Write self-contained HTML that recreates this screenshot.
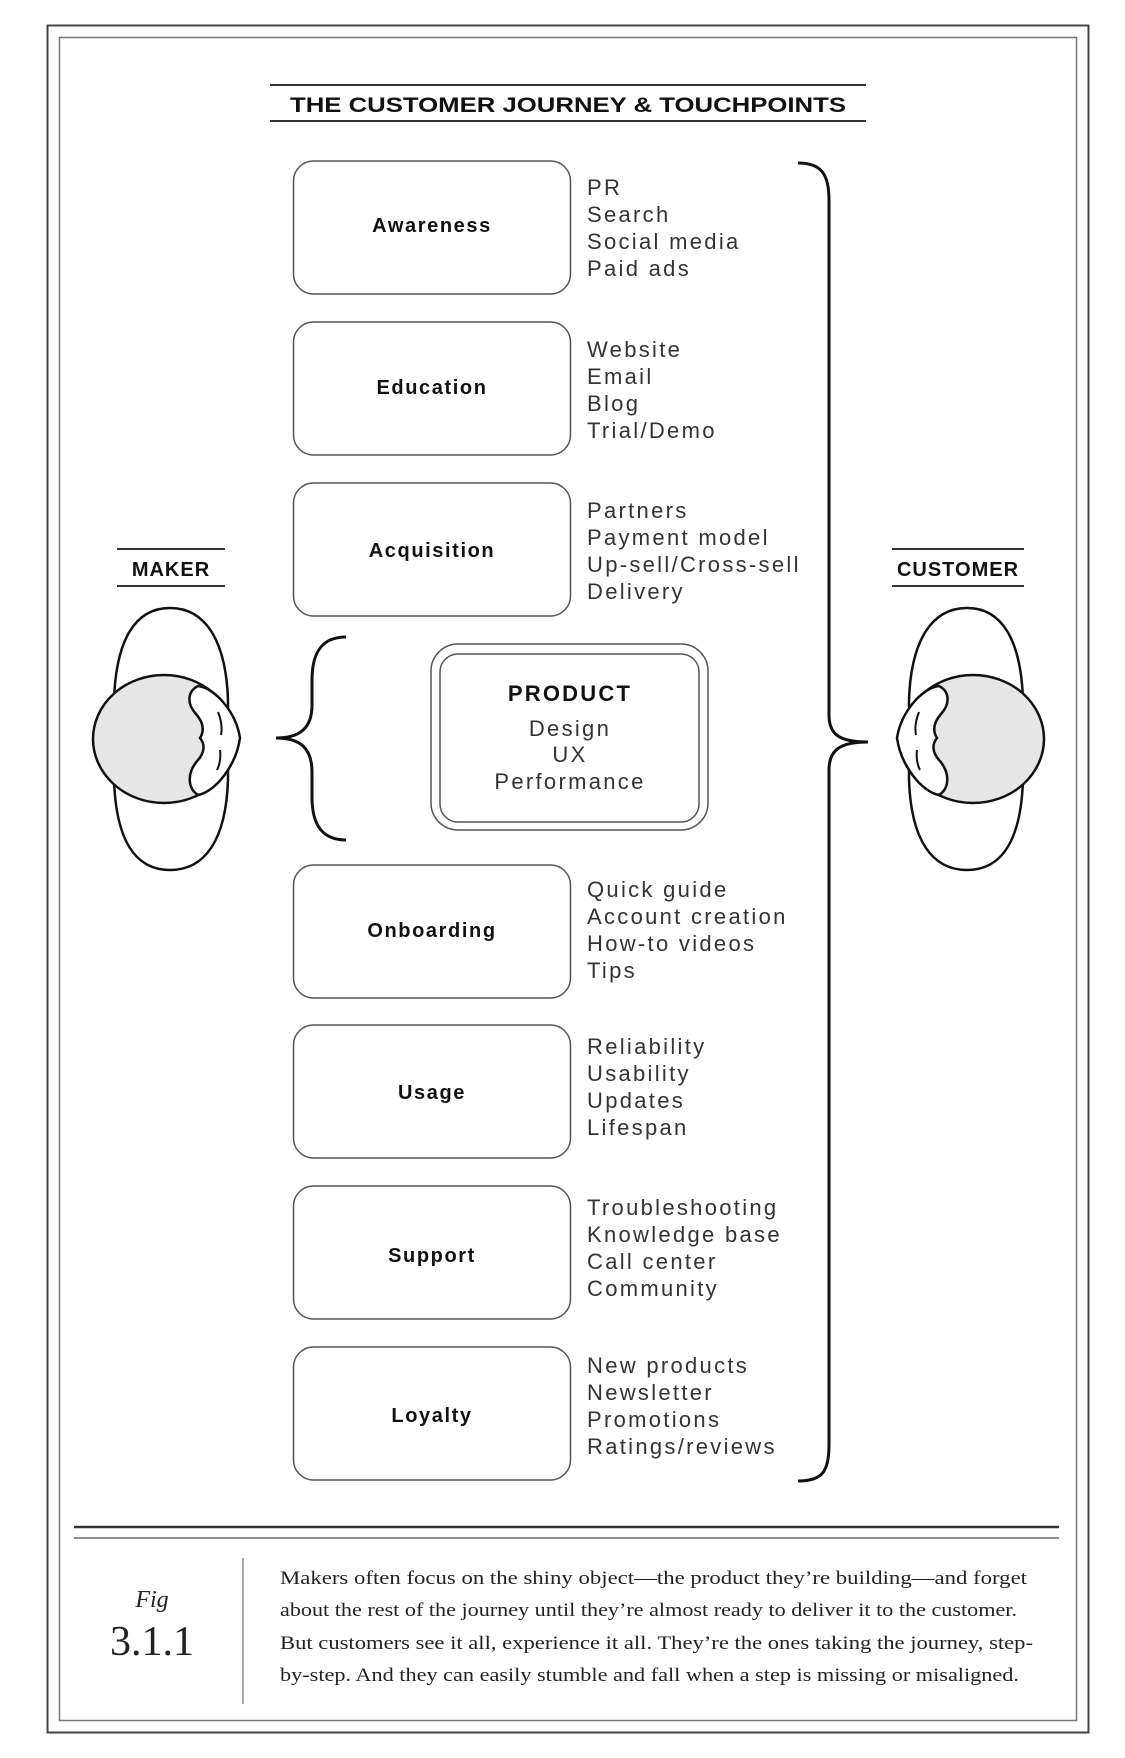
<!DOCTYPE html>
<html><head><meta charset="utf-8"><style>
html,body{margin:0;padding:0;background:#fff;}
svg{display:block;}
.sans{font-family:"Liberation Sans",sans-serif;}
.lab{font-family:"Liberation Sans",sans-serif;font-size:22px;fill:#333;letter-spacing:2.3px;}
.box{font-family:"Liberation Sans",sans-serif;font-size:20px;font-weight:bold;fill:#111;letter-spacing:1.6px;}
.ser{font-family:"Liberation Serif",serif;fill:#222;}
</style></head><body>
<svg width="1125" height="1758" viewBox="0 0 1125 1758" xmlns="http://www.w3.org/2000/svg">
<rect x="47.5" y="25.5" width="1041" height="1707" fill="none" stroke="#444" stroke-width="2"/>
<rect x="59.5" y="37.5" width="1017" height="1683" fill="none" stroke="#777" stroke-width="1.5"/>
<line x1="270" y1="85" x2="866" y2="85" stroke="#333" stroke-width="2"/>
<line x1="270" y1="121" x2="866" y2="121" stroke="#333" stroke-width="2"/>
<text x="568" y="112" text-anchor="middle" class="sans" font-size="21" font-weight="bold" fill="#111" textLength="556" lengthAdjust="spacingAndGlyphs">THE CUSTOMER JOURNEY &amp; TOUCHPOINTS</text>

<g fill="none" stroke="#555" stroke-width="1.5">
<rect x="293.5" y="161" width="277" height="133" rx="20"/>
<rect x="293.5" y="322" width="277" height="133" rx="20"/>
<rect x="293.5" y="483" width="277" height="133" rx="20"/>
<rect x="293.5" y="865" width="277" height="133" rx="20"/>
<rect x="293.5" y="1025" width="277" height="133" rx="20"/>
<rect x="293.5" y="1186" width="277" height="133" rx="20"/>
<rect x="293.5" y="1347" width="277" height="133" rx="20"/>
<rect x="431" y="644" width="277" height="186" rx="27"/>
<rect x="440" y="654" width="259" height="168" rx="18"/>
</g>
<g text-anchor="middle">
<text x="432" y="232" class="box">Awareness</text>
<text x="432" y="394" class="box">Education</text>
<text x="432" y="557" class="box">Acquisition</text>
<text x="432" y="937" class="box">Onboarding</text>
<text x="432" y="1099" class="box">Usage</text>
<text x="432" y="1262" class="box">Support</text>
<text x="432" y="1422" class="box">Loyalty</text>
</g>
<text x="570" y="701" text-anchor="middle" class="sans" font-size="22" font-weight="bold" fill="#111" letter-spacing="2.2">PRODUCT</text>
<g text-anchor="middle" class="lab">
<text x="570" y="736">Design</text>
<text x="570" y="762">UX</text>
<text x="570" y="789">Performance</text>
</g>

<g class="lab">
<text x="587" y="195">PR</text><text x="587" y="222">Search</text><text x="587" y="249">Social media</text><text x="587" y="276">Paid ads</text>
<text x="587" y="357">Website</text><text x="587" y="384">Email</text><text x="587" y="411">Blog</text><text x="587" y="438">Trial/Demo</text>
<text x="587" y="518">Partners</text><text x="587" y="545">Payment model</text><text x="587" y="572">Up-sell/Cross-sell</text><text x="587" y="599">Delivery</text>
<text x="587" y="897">Quick guide</text><text x="587" y="924">Account creation</text><text x="587" y="951">How-to videos</text><text x="587" y="978">Tips</text>
<text x="587" y="1054">Reliability</text><text x="587" y="1081">Usability</text><text x="587" y="1108">Updates</text><text x="587" y="1135">Lifespan</text>
<text x="587" y="1215">Troubleshooting</text><text x="587" y="1242">Knowledge base</text><text x="587" y="1269">Call center</text><text x="587" y="1296">Community</text>
<text x="587" y="1373">New products</text><text x="587" y="1400">Newsletter</text><text x="587" y="1427">Promotions</text><text x="587" y="1454">Ratings/reviews</text>
</g>

<path d="M798,163 C822,163 829,175 829,200 L829,715 C829,735 840,742 868,742 C840,742 829,750 829,770 L829,1445 C829,1472 822,1481 798,1481" fill="none" stroke="#111" stroke-width="3"/>
<path d="M346,637 C320,637 312,655 312,680 L312,705 C312,728 300,738 276,738 C300,738 312,748 312,772 L312,797 C312,822 320,840 346,840" fill="none" stroke="#111" stroke-width="3"/>

<line x1="117" y1="549" x2="225" y2="549" stroke="#333" stroke-width="2"/>
<line x1="117" y1="586" x2="225" y2="586" stroke="#333" stroke-width="2"/>
<text x="171" y="576" text-anchor="middle" class="sans" font-size="20" font-weight="bold" fill="#111" letter-spacing="1">MAKER</text>
<line x1="892" y1="549" x2="1024" y2="549" stroke="#333" stroke-width="2"/>
<line x1="892" y1="586" x2="1024" y2="586" stroke="#333" stroke-width="2"/>
<text x="958" y="576" text-anchor="middle" class="sans" font-size="20" font-weight="bold" fill="#111" letter-spacing="1">CUSTOMER</text>

<defs>
<g id="head">
<path d="M170,608 C205,608 226,640 228,700 L228,780 C226,840 205,870 170,870 C135,870 116,840 114,780 L114,700 C116,640 135,608 170,608 Z" fill="#fff" stroke="#111" stroke-width="2.5"/>
<ellipse cx="164" cy="739" rx="71" ry="64" fill="#e6e6e6" stroke="#111" stroke-width="2.5"/>
<path d="M198,686 C215,688 236,712 240,738 C236,766 215,792 198,795 C187,788 187,772 198,760 C205,752 205,744 200,738 C205,730 203,722 196,714 C186,703 188,691 198,686 Z" fill="#fff" stroke="#111" stroke-width="2.5"/>
<path d="M218,712 C222,722 222,730 221,735 M220,750 C221,758 220,764 217,770" fill="none" stroke="#111" stroke-width="2"/>
</g>
</defs>
<use href="#head"/>
<use href="#head" transform="translate(1137,0) scale(-1,1)"/>

<line x1="74" y1="1527" x2="1059" y2="1527" stroke="#333" stroke-width="2.5"/>
<line x1="74" y1="1538" x2="1059" y2="1538" stroke="#666" stroke-width="1.5"/>
<line x1="243" y1="1558" x2="243" y2="1704" stroke="#555" stroke-width="1"/>
<text x="152" y="1607" text-anchor="middle" class="ser" font-size="24" font-style="italic">Fig</text>
<text x="152" y="1655" text-anchor="middle" class="ser" font-size="42">3.1.1</text>
<g class="ser" font-size="19">
<text x="280" y="1584" textLength="747" lengthAdjust="spacingAndGlyphs">Makers often focus on the shiny object—the product they’re building—and forget</text>
<text x="280" y="1616" textLength="737" lengthAdjust="spacingAndGlyphs">about the rest of the journey until they’re almost ready to deliver it to the customer.</text>
<text x="280" y="1649" textLength="753" lengthAdjust="spacingAndGlyphs">But customers see it all, experience it all. They’re the ones taking the journey, step-</text>
<text x="280" y="1681" textLength="739" lengthAdjust="spacingAndGlyphs">by-step. And they can easily stumble and fall when a step is missing or misaligned.</text>
</g>
</svg>
</body></html>
